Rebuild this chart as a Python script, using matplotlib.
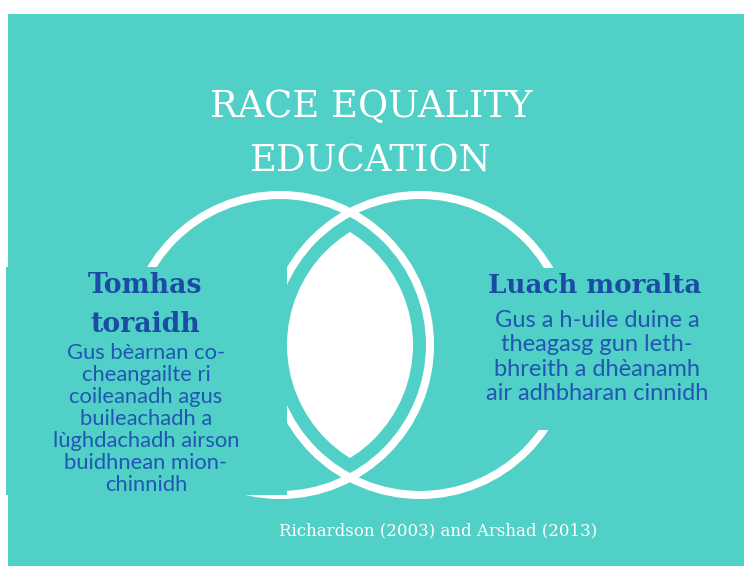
import matplotlib
matplotlib.use("Agg")
import matplotlib.pyplot as plt
from matplotlib.patches import Circle, Rectangle

# ---- content ----
title_lines = ["RACE EQUALITY", "EDUCATION"]
left_heading = ["Tomhas", "toraidh"]
left_body = ["Gus bèarnan co-", "cheangailte ri", "coileanadh agus",
             "buileachadh a", "lùghdachadh airson", "buidhnean mion-", "chinnidh"]
right_heading = ["Luach moralta"]
right_body = ["Gus a h-uile duine a", "theagasg gun leth-",
              "bhreith a dhèanamh", "air adhbharan cinnidh"]
citation = "Richardson (2003) and Arshad (2013)"

TEAL = "#50D0C6"
HEAD = "#1A4CA3"
BODY = "#2157B2"

W, H = 744, 566
fig = plt.figure(figsize=(W / 100, H / 100), dpi=100)
fig.patch.set_facecolor("white")
ax = fig.add_axes([0, 0, 1, 1])
ax.set_xlim(0, W)
ax.set_ylim(H, 0)
ax.axis("off")

# background panel
ax.add_patch(Rectangle((8, 14), W - 8, H - 14, facecolor=TEAL, edgecolor="none", zorder=0))

# circles (rings)
cL, cR, cy, r = 280, 420, 345, 150
lw = 5.8
for cx in (cL, cR):
    ax.add_patch(Circle((cx, cy), r, fill=False, edgecolor="white", lw=lw, zorder=2))

# lens (intersection) filled white
rl = 133
lensA = Circle((cR, cy), rl, facecolor="white", edgecolor="none", zorder=3)
ax.add_patch(lensA)
clipC = Circle((cL, cy), rl, transform=ax.transData, facecolor="none", edgecolor="none")
ax.add_patch(clipC)
lensA.set_clip_path(clipC)

# text boxes (same colour as background) covering the rings
ax.add_patch(Rectangle((6, 267), 281, 228, facecolor=TEAL, edgecolor="none", zorder=4))
ax.add_patch(Rectangle((470, 268), W - 470, 162, facecolor=TEAL, edgecolor="none", zorder=4))

# title
for txt, y in zip(title_lines, (117, 172)):
    ax.text(371, y, txt, ha="center", va="baseline", color="white",
            fontsize=26.5, family="DejaVu Serif", zorder=5)

# left block
for txt, y in zip(left_heading, (293, 332)):
    ax.text(145, y, txt, ha="center", va="baseline", color=HEAD,
            fontsize=19.2, family="DejaVu Serif", fontweight="bold", zorder=5)
for i, txt in enumerate(left_body):
    ax.text(146, 359 + 22 * i, txt, ha="center", va="baseline", color=BODY,
            fontsize=15.8, family="Lato", zorder=5)

# right block
ax.text(595, 293, right_heading[0], ha="center", va="baseline", color=HEAD,
        fontsize=18.8, family="DejaVu Serif", fontweight="bold", zorder=5)
for i, txt in enumerate(right_body):
    ax.text(597, 327 + 24.3 * i, txt, ha="center", va="baseline", color=BODY,
            fontsize=17, family="Lato", zorder=5)

# citation
ax.text(438, 535, citation, ha="center", va="baseline", color="white",
        fontsize=12, family="DejaVu Serif", zorder=5)

fig.savefig("out.png", dpi=100, facecolor=fig.get_facecolor())
